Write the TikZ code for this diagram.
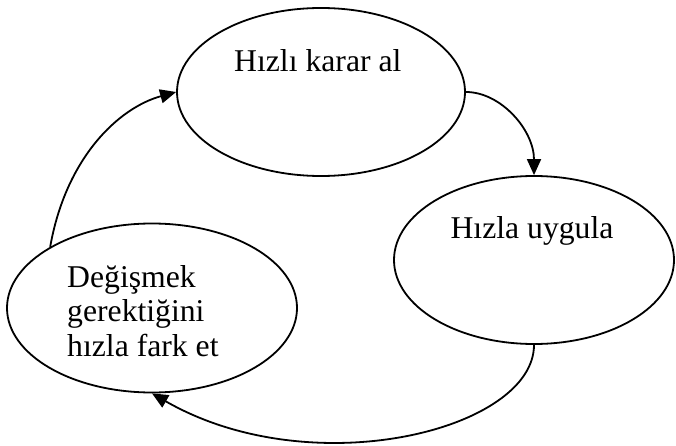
\documentclass[tikz,border=0pt]{standalone}
\usepackage{fontspec}
\setmainfont{Liberation Serif}
\usetikzlibrary{shapes.geometric,arrows.meta}
\begin{document}
\begin{tikzpicture}[x=1pt,y=-1pt,
  oval/.style={draw=black,ellipse,line width=1.8pt,inner sep=0pt,fill=white},
  lbl/.style={inner sep=0pt,anchor=base west,font=\fontsize{31.7}{34.5}\selectfont},
  conn/.style={draw=black,line width=1.8pt,-{Triangle[length=16pt,width=14pt]}}]
\useasboundingbox (0,0) rectangle (676,446);
\node[oval,minimum width=288pt,minimum height=168pt] (top) at (321,92) {};
\node[oval,minimum width=280pt,minimum height=168pt] (right) at (534,260) {};
\node[oval,minimum width=290pt,minimum height=169pt] (left) at (152,308) {};
\node[lbl] (ttop) at (234,72) {Hızlı karar al};
\node[lbl,anchor=base] (tright) at (532,238) {Hızla uygula};
\node[lbl,align=left,anchor=base west] (tleft) at (67,356) {Değişmek\\gerektiğini\\hızla fark et};
\draw[conn] (top.east) .. controls +(35,0) and +(0,-45) .. (right.north);
\draw[conn] (right.south) .. controls +(0,85) and +(160,92) .. (left.south);
\draw[conn] (left.149.5) .. controls +(15.6,-88.6) and +(-58,16) .. (top.west);
\end{tikzpicture}
\end{document}
